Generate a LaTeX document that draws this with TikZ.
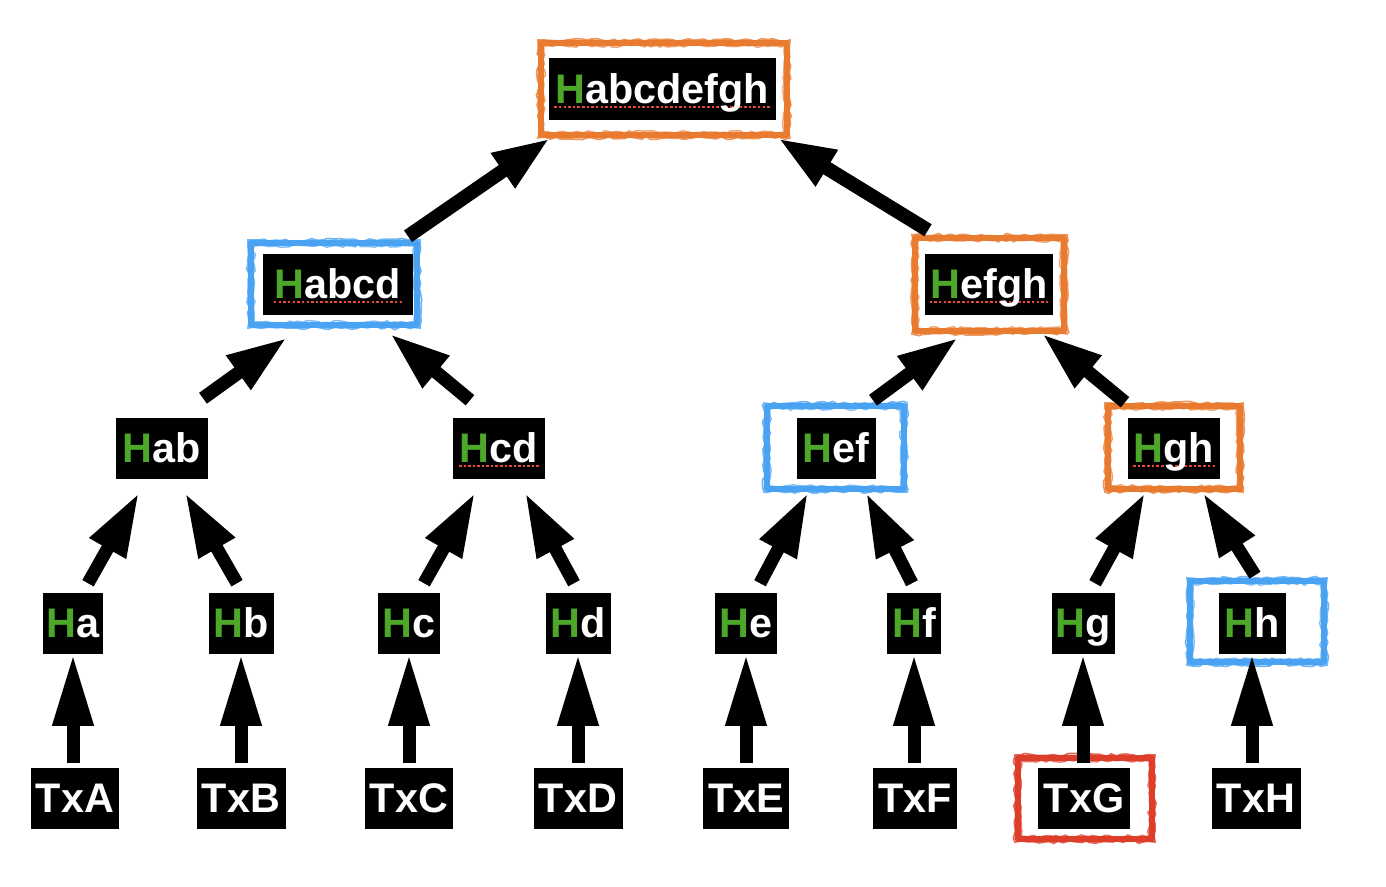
\documentclass[tikz,border=0pt]{standalone}
\usepackage{fontspec}
\setmainfont{Liberation Sans}
\usetikzlibrary{arrows.meta,calc,decorations.pathmorphing}

\definecolor{hgreen}{HTML}{4DA829}
\definecolor{fOrange}{HTML}{E87B30}
\definecolor{fBlue}{HTML}{4AA3F2}
\definecolor{fRed}{HTML}{DD3E2A}
\definecolor{dotred}{HTML}{E8473A}

% green leading H of every hash label
\newcommand\Hn[1]{\textcolor{hgreen}{H}#1}
% red dotted underline under a label
\newcommand\spellmark[1]{\setbox0=\hbox{#1}%
  \rlap{\kern-1.5pt\raisebox{-3.2pt}{\textcolor{dotred}{\hbox to \dimexpr\wd0+3pt\relax{\xleaders\hbox to 3.4pt{\hss\rule{1.9pt}{1.9pt}\hss}\hfill}}}}\box0}

% hand-drawn looking rectangle
\newcommand\sketchframe[5]{%
  \draw[color=#1, line width=4.2pt, line join=round] (#2,#3) -- (#4,#3) -- (#4,#5) -- (#2,#5) -- cycle;
  \draw[color=#1, line width=1.3pt, opacity=.8, decorate, decoration={random steps, segment length=4pt, amplitude=1.2pt}]
    (#2-3,#3-3) -- (#4+3,#3-3) -- (#4+3,#5+3) -- (#2-3,#5+3) -- cycle;
  \draw[color=#1, line width=1.1pt, opacity=.7, decorate, decoration={random steps, segment length=3pt, amplitude=1.0pt}]
    (#2+3,#3+3) -- (#4-3,#3+3) -- (#4-3,#5-3) -- (#2+3,#5-3) -- cycle;
}

\tikzset{
  hbox/.style={fill=black, text=white, inner sep=0pt,
    font=\bfseries\fontsize{31}{31}\selectfont,
    text height=22.2pt, text depth=0pt, minimum height=45.75pt},
  bw/.style={minimum width=#1},
  arrA/.style={line width=9.75pt, -{Triangle[length=54pt, width=28.5pt]}},
  arrB/.style={line width=9.75pt, -{Triangle[length=48pt, width=29pt]}},
  arrC/.style={line width=10pt, -{Triangle[length=45pt, width=29pt]}},
  arrD/.style={line width=10.5pt, -{Triangle[length=43pt, width=29pt]}},
}

\begin{document}
\begin{tikzpicture}[x=0.75pt, y=-0.75pt]
\pgfmathsetseed{11}
\useasboundingbox (0,0) rectangle (1386,886);

% highlight frames
\sketchframe{fOrange}{541}{43}{787}{135}
\sketchframe{fBlue}{251}{243}{417}{325}
\sketchframe{fOrange}{915}{238}{1064}{331}
\sketchframe{fBlue}{767}{406}{904}{489}
\sketchframe{fOrange}{1108}{406}{1240}{489}
\sketchframe{fBlue}{1190}{581}{1324}{662}
\sketchframe{fRed}{1018}{758}{1152}{839}

% transactions
\node[hbox, bw=66pt]    (TxA) at (75,798)   {TxA};
\node[hbox, bw=66.75pt] (TxB) at (241,798)  {TxB};
\node[hbox, bw=66pt]    (TxC) at (409,798)  {TxC};
\node[hbox, bw=66.75pt] (TxD) at (578,798)  {TxD};
\node[hbox, bw=64.5pt]  (TxE) at (746,798)  {TxE};
\node[hbox, bw=63pt]    (TxF) at (915,798)  {TxF};
\node[hbox, bw=69pt]    (TxG) at (1084,798) {TxG};
\node[hbox, bw=66.75pt] (TxH) at (1256,798) {TxH};

% leaf hashes
\node[hbox, bw=45pt]    (Ha) at (73,623)   {\Hn{a}};
\node[hbox, bw=48.75pt] (Hb) at (241,623)  {\Hn{b}};
\node[hbox, bw=46.5pt]  (Hc) at (409,623)  {\Hn{c}};
\node[hbox, bw=48.75pt] (Hd) at (578,623)  {\Hn{d}};
\node[hbox, bw=46.5pt]  (He) at (746,623)  {\Hn{e}};
\node[hbox, bw=40.5pt]  (Hf) at (914,623)  {\Hn{f}};
\node[hbox, bw=47.25pt] (Hg) at (1083,623) {\Hn{g}};
\node[hbox, bw=50.25pt] (Hh) at (1252,623) {\Hn{h}};

% pair hashes
\node[hbox, bw=69pt]    (Hab) at (162,448)  {\Hn{ab}};
\node[hbox, bw=69pt]    (Hcd) at (499,448)  {\spellmark{\Hn{cd}}};
\node[hbox, bw=59.25pt] (Hef) at (836,448)  {\Hn{ef}};
\node[hbox, bw=69pt]    (Hgh) at (1174,448) {\spellmark{\Hn{gh}}};

% upper hashes
\node[hbox, bw=112.5pt] (Habcd) at (338,284) {\spellmark{\Hn{abcd}}};
\node[hbox, bw=96pt]    (Hefgh) at (989,284) {\spellmark{\Hn{efgh}}};
\node[hbox, bw=170.25pt, minimum height=46.5pt] (Hroot) at (662,89) {\spellmark{\Hn{abcdefgh}}};

% transactions to leaf hashes (straight up)
\foreach \t/\h in {TxA/Ha, TxB/Hb, TxC/Hc, TxD/Hd, TxE/He, TxF/Hf, TxG/Hg, TxH/Hh}
  \draw[arrA] ($(\h.south |- \t.north)+(0,-4)$) -- (\h.south);

% leaf hashes to pair hashes
\draw[arrB] ([shift={(15,-9)}]Ha.north) -- ([shift={(-23,14)}]Hab.south);
\draw[arrB] ([shift={(-4,-9)}]Hb.north) -- ([shift={(23,14)}]Hab.south);
\draw[arrB] ([shift={(15,-9)}]Hc.north) -- ([shift={(-24,14)}]Hcd.south);
\draw[arrB] ([shift={(-4,-9)}]Hd.north) -- ([shift={(26,14)}]Hcd.south);
\draw[arrB] ([shift={(14,-9)}]He.north) -- ([shift={(-28,14)}]Hef.south);
\draw[arrB] ([shift={(-2,-9)}]Hf.north) -- ([shift={(30,14)}]Hef.south);
\draw[arrB] ([shift={(12,-9)}]Hg.north) -- ([shift={(-29,14)}]Hgh.south);
\draw[arrB] ([shift={(3,-17)}]Hh.north) -- ([shift={(29,14)}]Hgh.south);

% pair hashes to upper hashes
\draw[arrC] ([shift={(41,-19)}]Hab.north) -- ([shift={(-51,23)}]Habcd.south);
\draw[arrC] ([shift={(-29,-17)}]Hcd.north) -- ([shift={(52,19)}]Habcd.south);
\draw[arrC] ([shift={(37,-17)}]Hef.north) -- ([shift={(-31,23)}]Hefgh.south);
\draw[arrC] ([shift={(-49,-15)}]Hgh.north) -- ([shift={(53,19)}]Hefgh.south);

% upper hashes to root
\draw[arrD] ([shift={(70,-17)}]Habcd.north) -- ([shift={(-112,18)}]Hroot.south);
\draw[arrD] ([shift={(-61,-23)}]Hefgh.north) -- ([shift={(116,18)}]Hroot.south);
\end{tikzpicture}
\end{document}
